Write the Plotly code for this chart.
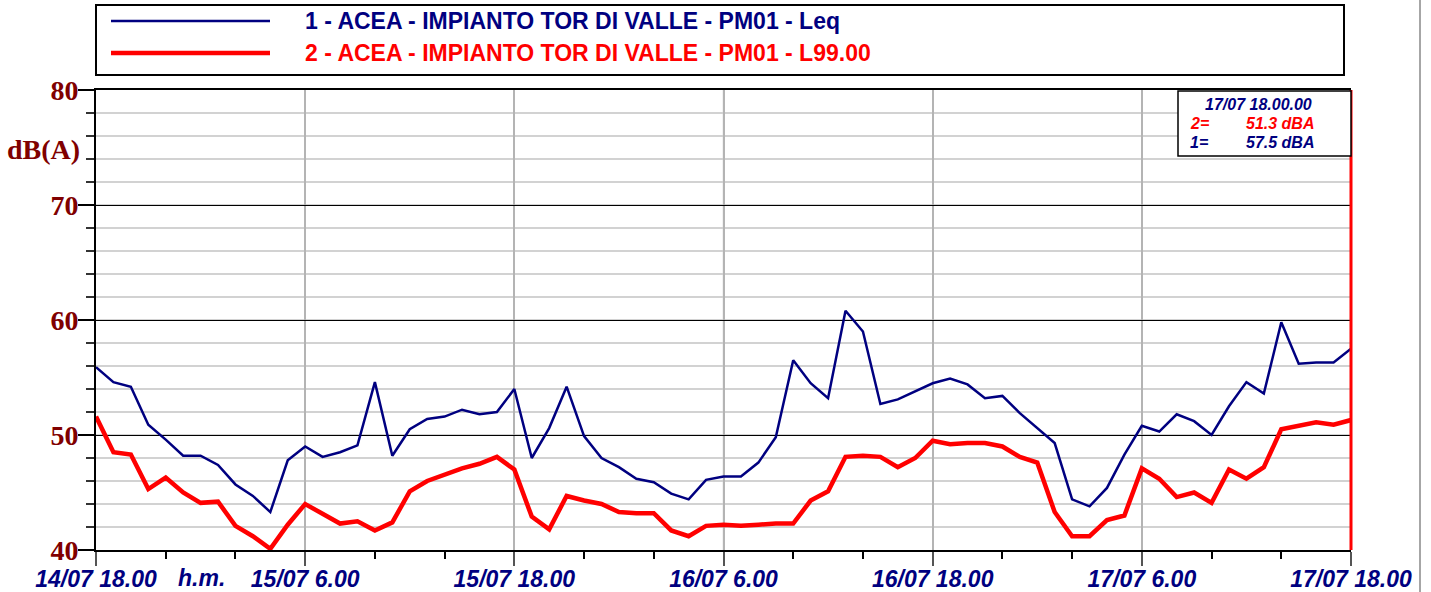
import pandas as pd
import plotly.graph_objects as go

# ---- data ----
start_time = "2023-07-14 18:00"
n_points = 73
leq = [55.9, 54.6, 54.2, 50.9, 49.6, 48.2, 48.2, 47.4, 45.7, 44.7, 43.3, 47.8, 49.0, 48.1, 48.5, 49.1,
       54.6, 48.2, 50.5, 51.4, 51.6, 52.2, 51.8, 52.0, 54.0, 48.0, 50.6, 54.2, 49.9, 48.0, 47.2, 46.2,
       45.9, 44.9, 44.4, 46.1, 46.4, 46.4, 47.6, 49.8, 56.5, 54.5, 53.2, 60.8, 59.0, 52.7, 53.1, 53.8,
       54.5, 54.9, 54.4, 53.2, 53.4, 51.9, 50.6, 49.3, 44.4, 43.8, 45.4, 48.3, 50.8, 50.3, 51.8, 51.2,
       50.0, 52.5, 54.6, 53.6, 59.8, 56.2, 56.3, 56.3, 57.5]
l99 = [51.6, 48.5, 48.3, 45.3, 46.3, 45.0, 44.1, 44.2, 42.1, 41.2, 40.1, 42.2, 44.0, 43.2, 42.3, 42.5,
       41.7, 42.4, 45.1, 46.0, 46.6, 47.1, 47.5, 48.1, 47.0, 42.9, 41.8, 44.7, 44.3, 44.0, 43.3, 43.2,
       43.2, 41.7, 41.2, 42.1, 42.2, 42.1, 42.2, 42.3, 42.3, 44.3, 45.1, 48.1, 48.2, 48.1, 47.2, 48.0,
       49.5, 49.2, 49.3, 49.3, 49.0, 48.1, 47.6, 43.3, 41.2, 41.2, 42.6, 43.0, 47.1, 46.2, 44.6, 45.0,
       44.1, 47.0, 46.2, 47.2, 50.5, 50.8, 51.1, 50.9, 51.3]
series_names = ["1 - ACEA - IMPIANTO TOR DI VALLE - PM01 - Leq",
                "2 - ACEA - IMPIANTO TOR DI VALLE - PM01 - L99.00"]
tick_times = ["2023-07-14 18:00", "2023-07-15 06:00", "2023-07-15 18:00",
              "2023-07-16 06:00", "2023-07-16 18:00", "2023-07-17 06:00", "2023-07-17 18:00"]
tick_labels = ["14/07 18.00", "15/07 6.00", "15/07 18.00", "16/07 6.00",
               "16/07 18.00", "17/07 6.00", "17/07 18.00"]
y_ticks = [40, 50, 60, 70, 80]
cursor_label = "17/07 18.00.00"

times = pd.date_range(start_time, periods=n_points, freq="h")

NAVY = "#000080"
RED = "#FF0000"
DARKRED = "#800000"
SANS = "Liberation Sans, Arial, sans-serif"
SERIF = "Liberation Serif, Times New Roman, serif"

fig = go.Figure()
fig.add_trace(go.Scatter(x=times, y=leq, mode="lines", line=dict(color=NAVY, width=2.5),
                         name=series_names[0], showlegend=False))
fig.add_trace(go.Scatter(x=times, y=l99, mode="lines", line=dict(color=RED, width=4.5),
                         name=series_names[1], showlegend=False))

W, H = 1431, 592
L, R, T, B = 96, 1351, 90, 550
pw, ph = R - L, B - T


def px(x):
    return (x - L) / pw


def py(y):
    return (B - y) / ph


fig.update_layout(
    width=W, height=H,
    margin=dict(l=L, r=W - R, t=T, b=H - B, autoexpand=False),
    paper_bgcolor="white", plot_bgcolor="white",
    showlegend=False,
)

fig.update_xaxes(
    range=[times[0], times[-1]], automargin=False,
    tickmode="array", tickvals=tick_times, ticktext=tick_labels,
    ticks="outside", ticklen=14, tickwidth=1.5, tickcolor="#555555",
    ticklabelstandoff=-7,
    tickfont=dict(family=SANS, size=23, color=NAVY, weight="bold", style="italic"),
    showgrid=True, gridcolor="#b4b4b4", gridwidth=1.5,
    showline=True, linecolor="black", linewidth=2, mirror=True,
    zeroline=False,
    minor=dict(dtick=4 * 3600 * 1000, tick0=start_time, ticks="outside", ticklen=7,
               tickcolor="black", tickwidth=1.5, showgrid=False),
)

fig.update_yaxes(
    range=[40, 80], automargin=False, tickmode="array", tickvals=y_ticks,
    ticks="outside", ticklen=16, tickwidth=1.5, tickcolor="black",
    ticklabelstandoff=-6,
    tickfont=dict(family=SERIF, size=28, color=DARKRED, weight="bold"),
    showgrid=True, gridcolor="black", gridwidth=1,
    showline=True, linecolor="black", linewidth=2,
    zeroline=False,
    minor=dict(dtick=2, tick0=40, ticks="outside", ticklen=8, tickcolor="#333333",
               tickwidth=1.5, showgrid=True, gridcolor="#d2d2d2", gridwidth=1.5),
)

shapes = []
# darker grid line at 16/07 6.00
shapes.append(dict(type="line", xref="x", yref="paper", x0=tick_times[3], x1=tick_times[3], y0=0, y1=1,
                   line=dict(color="#808080", width=1.2), layer="between"))
# legend box
shapes.append(dict(type="rect", xref="paper", yref="paper", x0=0, x1=px(1344), y0=py(75), y1=py(5),
                   line=dict(color="black", width=2), fillcolor="white", layer="above"))
shapes.append(dict(type="line", xref="paper", yref="paper", x0=px(111), x1=px(270), y0=py(21), y1=py(21),
                   line=dict(color=NAVY, width=2.5)))
shapes.append(dict(type="line", xref="paper", yref="paper", x0=px(111), x1=px(270), y0=py(53), y1=py(53),
                   line=dict(color=RED, width=4.5)))
# cursor line at the last sample
shapes.append(dict(type="line", xref="paper", yref="paper", x0=1, x1=1, y0=0, y1=1,
                   line=dict(color=RED, width=3), layer="above"))
# cursor box
shapes.append(dict(type="rect", xref="paper", yref="paper", x0=px(1178), x1=px(1351), y0=py(156), y1=py(91),
                   line=dict(color="black", width=1.5), fillcolor="white", layer="above"))
# right page edge
shapes.append(dict(type="line", xref="paper", yref="paper", x0=px(1420), x1=px(1420), y0=py(592), y1=py(0),
                   line=dict(color="#888888", width=1.5)))
fig.update_layout(shapes=shapes)

ann = []
ann.append(dict(xref="paper", yref="paper", x=px(303), y=py(21), xanchor="left", yanchor="middle",
                text=series_names[0], showarrow=False,
                font=dict(family=SANS, size=23, color=NAVY, weight="bold")))
ann.append(dict(xref="paper", yref="paper", x=px(303), y=py(53), xanchor="left", yanchor="middle",
                text=series_names[1], showarrow=False,
                font=dict(family=SANS, size=23, color=RED, weight="bold")))
ann.append(dict(xref="paper", yref="paper", x=px(82), y=py(149), xanchor="right", yanchor="middle",
                text="dB(A)", showarrow=False,
                font=dict(family=SERIF, size=28, color=DARKRED, weight="bold")))
ann.append(dict(xref="paper", yref="paper", x=px(201), y=py(578), xanchor="center", yanchor="middle",
                text="h.m.", showarrow=False,
                font=dict(family=SANS, size=23, color=NAVY, weight="bold", style="italic")))
cf = dict(family=SANS, size=16, weight="bold", style="italic")
ann.append(dict(xref="paper", yref="paper", x=px(1258), y=py(104), xanchor="center", yanchor="middle",
                text=cursor_label, showarrow=False, font=dict(cf, color=NAVY)))
ann.append(dict(xref="paper", yref="paper", x=px(1188), y=py(123), xanchor="left", yanchor="middle",
                text="2=", showarrow=False, font=dict(cf, color=RED)))
ann.append(dict(xref="paper", yref="paper", x=px(1316), y=py(123), xanchor="right", yanchor="middle",
                text=f"{l99[-1]:.1f} dBA", showarrow=False, font=dict(cf, color=RED)))
ann.append(dict(xref="paper", yref="paper", x=px(1188), y=py(142), xanchor="left", yanchor="middle",
                text="1=", showarrow=False, font=dict(cf, color=NAVY)))
ann.append(dict(xref="paper", yref="paper", x=px(1316), y=py(142), xanchor="right", yanchor="middle",
                text=f"{leq[-1]:.1f} dBA", showarrow=False, font=dict(cf, color=NAVY)))
fig.update_layout(annotations=ann)

fig.write_html(
    "out.html",
    config={"displayModeBar": False},
    post_script="document.body.style.margin='0';document.body.style.overflow='hidden';",
)
